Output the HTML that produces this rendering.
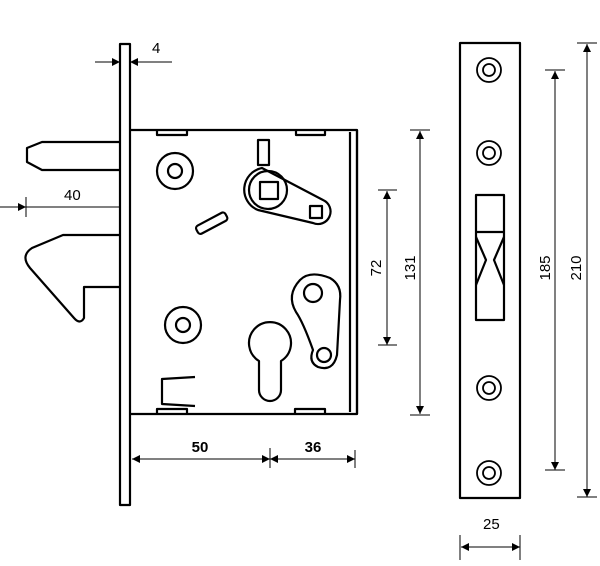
<!DOCTYPE html><html><head><style>body{margin:0;background:#fff}svg{display:block}text{font-family:"Liberation Sans",sans-serif}</style></head><body>
<svg width="600" height="566" viewBox="0 0 600 566" xmlns="http://www.w3.org/2000/svg">
<defs><marker id="a" viewBox="0 0 10 10" refX="10" refY="5" markerWidth="10" markerHeight="8" markerUnits="userSpaceOnUse" orient="auto-start-reverse"><path d="M0,0L10,5L0,10z" fill="#000"/></marker></defs>
<g fill="none" stroke="#000" stroke-width="2.2" stroke-linejoin="round">
<rect x="120" y="44" width="10" height="461"/>
<path d="M130,130H357V414H130"/><path d="M350,132V412M357,130V414"/>
<path d="M157,131v4h30v-4M296,131v4h29v-4M157,413v-4h30v4M295,413v-4h30v4"/>
<path d="M120,142H42L27,148V162L42,170H120"/>
<path d="M120,235H63L32,248Q20,256 30,268L74,318Q80,325 84,318V287H120"/>
<circle cx="175" cy="171" r="18"/><circle cx="175" cy="171" r="7"/>
<circle cx="183" cy="325" r="18"/><circle cx="183" cy="325" r="7"/>
<rect x="258" y="140" width="11" height="25"/>
<path d="M262,168L323,200A12,12 0 0 1 313,223L258,210A22,22 0 0 1 262,168Z"/>
<circle cx="268" cy="190" r="19"/>
<rect x="260" y="182" width="18" height="17"/><rect x="310" y="206" width="12" height="12"/>
<rect x="195" y="219" width="33" height="9" rx="3" transform="rotate(-28 211 223)"/>
<path d="M259,361A21,21 0 1 1 281,361V390A11,11 0 0 1 259,390Z"/>
<path d="M300,280Q310,270 330,278Q342,285 340,300L337,355Q333,372 318,367Q308,362 313,350Q303,322 296,312Q286,295 300,280Z"/>
<circle cx="313" cy="293" r="9"/><circle cx="324" cy="355" r="7"/>
<path d="M195,377L162,379V404L195,406"/>
<rect x="460" y="43" width="60" height="455"/>
<rect x="476" y="195" width="28" height="125"/>
<path d="M476,232H504M476,237L486,260L476,285M504,237L494,260L504,285"/>
</g>
<g fill="none" stroke="#000" stroke-width="1.8">
<circle cx="489" cy="70" r="12"/><circle cx="489" cy="70" r="6"/>
<circle cx="489" cy="153" r="12"/><circle cx="489" cy="153" r="6"/>
<circle cx="489" cy="388" r="12"/><circle cx="489" cy="388" r="6"/>
<circle cx="489" cy="473" r="12"/><circle cx="489" cy="473" r="6"/>
</g>
<g stroke="#000" stroke-width="1" fill="none">
<path d="M95,62H120" marker-end="url(#a)"/><path d="M172,62H130" marker-end="url(#a)"/>
<path d="M0,207H26" marker-end="url(#a)"/><path d="M26,207H120M26,197V217"/>
<path d="M132,459H270" marker-start="url(#a)" marker-end="url(#a)"/><path d="M270,459H355" marker-start="url(#a)" marker-end="url(#a)"/>
<path d="M130,414V465M270,448V468M355,450V468"/>
<path d="M387,191V345" marker-start="url(#a)" marker-end="url(#a)"/><path d="M378,190H397M378,345H397"/>
<path d="M420,131V414" marker-start="url(#a)" marker-end="url(#a)"/><path d="M410,130H430M410,415H430"/>
<path d="M555,71V470" marker-start="url(#a)" marker-end="url(#a)"/><path d="M545,70H565M545,470H565"/>
<path d="M587,44V497" marker-start="url(#a)" marker-end="url(#a)"/><path d="M577,43H597M577,497H597"/>
<path d="M461,547H520" marker-start="url(#a)" marker-end="url(#a)"/><path d="M460,535V560M520,535V560"/>
</g>
<g font-size="15" fill="#000">
<text x="152" y="53">4</text><text x="64" y="200">40</text>
<text x="483" y="529">25</text>
<text transform="translate(381,268) rotate(-90)" text-anchor="middle">72</text>
<text transform="translate(415,268) rotate(-90)" text-anchor="middle">131</text>
<text transform="translate(550,268) rotate(-90)" text-anchor="middle">185</text>
<text transform="translate(581,268) rotate(-90)" text-anchor="middle">210</text>
<text x="200" y="452" font-weight="bold" text-anchor="middle">50</text>
<text x="313" y="452" font-weight="bold" text-anchor="middle">36</text>
</g>
</svg></body></html>
